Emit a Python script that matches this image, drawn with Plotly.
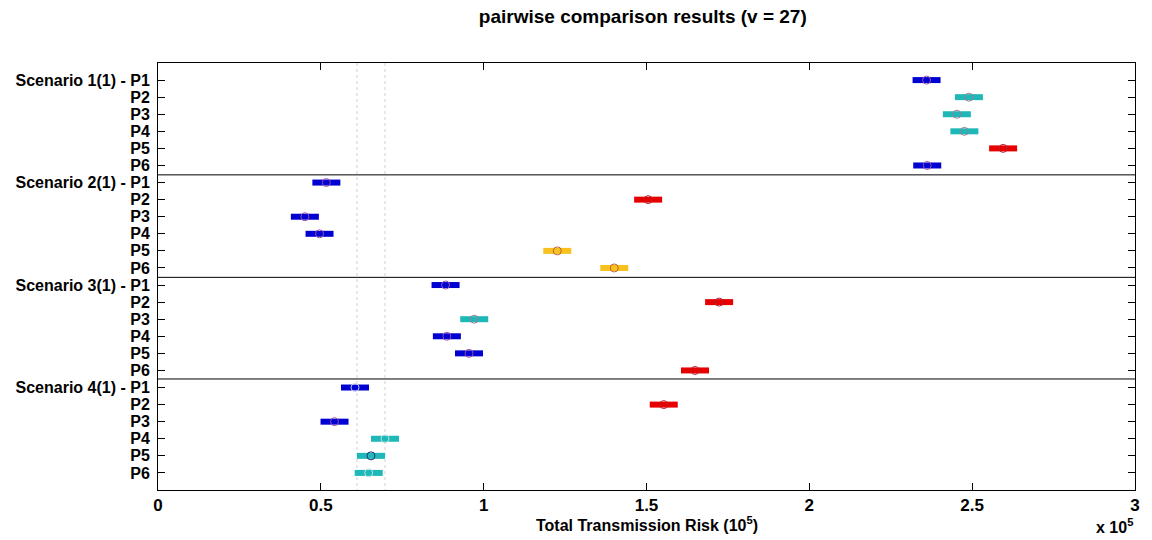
import plotly.graph_objects as go

# ---- data (values in units of 1e5) ----
scenarios = ["Scenario 1(1)", "Scenario 2(1)", "Scenario 3(1)", "Scenario 4(1)"]
policies = ["P1", "P2", "P3", "P4", "P5", "P6"]

centers_s1 = [2.360, 2.490, 2.453, 2.476, 2.595, 2.362]
centers_s2 = [0.517, 1.505, 0.451, 0.496, 1.226, 1.401]
centers_s3 = [0.883, 1.723, 0.971, 0.887, 0.955, 1.649]
centers_s4 = [0.605, 1.553, 0.542, 0.697, 0.654, 0.647]

groups_s1 = ["blue", "teal", "teal", "teal", "red", "blue"]
groups_s2 = ["blue", "red", "blue", "blue", "gold", "gold"]
groups_s3 = ["blue", "red", "teal", "blue", "blue", "red"]
groups_s4 = ["blue", "red", "blue", "teal", "teal", "teal"]

half_width = 0.043
selected_row = 23  # Scenario 4(1) - P5 (1-based)

x_ticks = [0, 0.5, 1, 1.5, 2, 2.5, 3]
x_tick_text = ["0", "0.5", "1", "1.5", "2", "2.5", "3"]

# ---- styles ----
bar_colors = {"blue": "#0000D2", "teal": "#1EB8B8", "red": "#E60000", "gold": "#F7C21E"}
marker_edge = {"blue": "#A050A8", "teal": "#9A7C90", "red": "#B82030", "gold": "#C06030"}
narrow = "Liberation Sans Narrow, Arial Narrow, Liberation Sans"

centers = centers_s1 + centers_s2 + centers_s3 + centers_s4
groups = groups_s1 + groups_s2 + groups_s3 + groups_s4
rows = list(range(1, len(centers) + 1))
labels = []
for s in scenarios:
    for j, p in enumerate(policies):
        labels.append(f"{s} - {p}" if j == 0 else p)

fig = go.Figure()

# dotted reference interval of selected group
sel_c = centers[selected_row - 1]
for xv in (sel_c - half_width, sel_c + half_width):
    fig.add_trace(go.Scatter(x=[xv, xv], y=[0, 25], mode="lines",
                             line=dict(color="#D0D0D0", width=1, dash="dot"),
                             showlegend=False, hoverinfo="skip"))

for g in ["blue", "teal", "red", "gold"]:
    xs, ys = [], []
    for c, r, gg in zip(centers, rows, groups):
        if gg == g:
            xs += [c - half_width, c + half_width, None]
            ys += [r, r, None]
    fig.add_trace(go.Scatter(x=xs, y=ys, mode="lines",
                             line=dict(color=bar_colors[g], width=6),
                             showlegend=False))

mcolors = [marker_edge[g] for g in groups]
# circles that are nearly invisible / darker in the last scenario
mcolors[18] = "#C8D4F2"
mcolors[21] = "#B8E2E2"
mcolors[22] = "#1A2A80"
mcolors[23] = "#B8E2E2"
fig.add_trace(go.Scatter(x=centers, y=rows, mode="markers",
                         marker=dict(symbol="circle-open", size=8, color=mcolors,
                                     line=dict(width=1)),
                         showlegend=False))

for yv in (6.55, 12.55, 18.5):
    fig.add_shape(type="line", xref="paper", x0=0, x1=1, yref="y", y0=yv, y1=yv,
                  line=dict(color="black", width=1))

fig.update_xaxes(range=[0, 3], tickvals=x_ticks, ticktext=x_tick_text,
                 ticks="inside", ticklen=7, tickcolor="black", mirror="ticks",
                 showline=True, linecolor="black", linewidth=1, showgrid=False,
                 zeroline=False,
                 tickfont=dict(family=narrow, size=17, color="black", weight="bold"))
fig.update_yaxes(range=[25, 0], tickvals=rows, ticktext=labels,
                 ticks="inside", ticklen=7, tickcolor="black", mirror="ticks",
                 showline=True, linecolor="black", linewidth=1, showgrid=False,
                 zeroline=False, ticklabelstandoff=4,
                 tickfont=dict(family="Liberation Sans, Arial", size=16,
                               color="black", weight="bold"))

fig.add_annotation(text="Total Transmission Risk (10<sup>5</sup>)", xref="paper", yref="paper",
                   x=0.5, y=-0.079, xanchor="center", yanchor="middle", showarrow=False,
                   font=dict(family=narrow, size=16, color="black", weight="bold"))
fig.add_annotation(text="x 10<sup>5</sup>", xref="paper", yref="paper",
                   x=1.0, y=-0.085, xanchor="right", yanchor="middle", showarrow=False,
                   font=dict(family=narrow, size=16, color="black", weight="bold"))

fig.update_layout(
    width=1152, height=540,
    margin=dict(l=158, r=17, t=63, b=50),
    plot_bgcolor="white", paper_bgcolor="white",
    title=dict(text="pairwise comparison results (v = 27)", x=0.558, xanchor="center",
               y=0.969, yanchor="middle", yref="container",
               font=dict(family="Liberation Sans, Arial", size=19, color="black", weight="bold")),
    showlegend=False,
)

fig.write_html("out.html", config={"displayModeBar": False},
               post_script="document.body.style.margin='0px';")
